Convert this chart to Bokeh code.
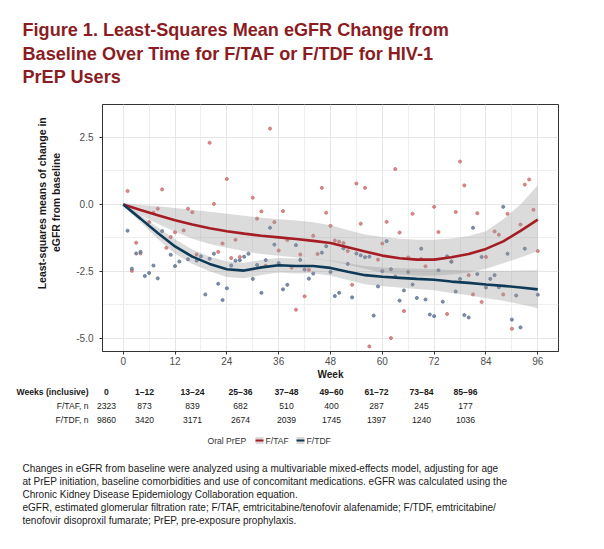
import math
from bokeh.plotting import figure
from bokeh.layouts import column, row
from bokeh.models import Range1d, FixedTicker, PrintfTickFormatter
from bokeh.core.properties import value
from bokeh.embed import file_html
from bokeh.resources import INLINE

# ---------------- data ----------------
taf_pt_weeks = [1, 2, 3, 4, 6, 7, 8, 9, 10, 11, 12, 14, 15, 16, 17, 20, 21, 22, 23, 24, 25, 26, 27,
                30, 31, 32, 33, 34, 35, 36, 37, 38, 39, 40, 41, 42, 43, 44, 45, 46, 47, 48, 49, 50,
                51, 52, 53, 54, 55, 56, 57, 59, 60, 61, 62, 63, 64, 65, 66, 67, 69, 70, 72, 73, 75,
                76, 77, 78, 79, 80, 81, 82, 83, 84, 86, 87, 88, 89, 90, 92, 93, 94, 95, 96]
taf_pt_vals = [0.50, -2.48, -1.43, -1.83, -0.66, -0.31, -0.16, 0.56, -1.62, -1.22, -1.04, -0.97, -0.16,
               -0.29, -1.87, 2.30, 0.02, -1.77, -1.46, 0.95, -2.00, -1.32, -1.96, 0.25, -0.53, -0.26,
               -2.29, 2.83, -0.66, -1.72, -0.25, -1.33, -2.36, -3.93, -1.87, -3.43, -2.44, -1.17,
               -1.85, 0.62, -0.31, -0.80, -1.35, -1.39, -1.44, -1.74, -3.00, 0.78, -0.72, 0.62,
               -5.30, -2.06, -1.46, -0.65, -4.99, 1.32, -1.05, -3.98, -1.98, -0.35, -2.04, -2.31,
               -0.09, -1.03, -4.09, -2.13, -0.28, 1.60, 0.71, -2.64, -3.36, -0.33, -3.64, -1.96,
               -1.01, -1.13, -3.36, -0.35, -4.64, -0.75, 0.74, 0.93, -0.20, -1.74]

tdf_pt_weeks = [1, 2, 3, 4, 5, 6, 7, 8, 9, 11, 12, 13, 15, 17, 18, 19, 20, 21, 22, 23, 24, 25, 26,
                27, 28, 29, 30, 31, 32, 33, 34, 35, 36, 37, 38, 40, 41, 42, 43, 44, 46, 47, 48, 49,
                50, 51, 52, 53, 54, 55, 56, 57, 58, 59, 60, 61, 62, 63, 64, 65, 66, 67, 68, 69, 70,
                71, 72, 73, 74, 75, 76, 77, 78, 79, 80, 81, 82, 83, 84, 85, 86, 87, 88, 89, 90, 91,
                92, 93, 96]
tdf_pt_vals = [-0.98, -2.40, -1.83, -1.77, -2.67, -2.56, -2.28, -2.76, -1.00, -1.88, -2.30, -2.13,
               -2.05, -2.10, -1.94, -3.36, -2.03, -1.84, -2.96, -3.57, -3.13, -2.28, -2.10, -2.08,
               -1.95, -1.84, -2.78, -2.26, -3.30, -2.08, -0.87, -1.50, -2.19, -3.17, -3.00, -1.52,
               -2.07, -2.43, -2.77, -2.58, -1.80, -1.56, -2.52, -3.42, -3.30, -1.64, -2.22, -3.47,
               -1.83, -1.90, -1.97, -1.95, -4.15, -3.06, -2.49, -1.37, -2.42, -2.69, -3.59, -3.21,
               -2.52, -2.99, -3.49, -1.65, -3.55, -4.11, -4.17, -2.46, -3.63, -1.94, -2.14, -3.25,
               -2.78, -4.13, -4.22, -0.87, -2.60, -1.96, -3.10, -2.78, -2.64, -3.09, -0.09, -1.84,
               -4.30, -3.40, -4.59, -1.65, -3.37]

curve_weeks = [0, 4, 8, 12, 16, 20, 24, 28, 32, 36, 40, 44, 48, 52, 56, 60, 64, 68, 72, 76, 80, 84, 88, 92, 96]
taf_mean = [0.00, -0.21, -0.40, -0.59, -0.75, -0.89, -1.00, -1.09, -1.17, -1.23, -1.29, -1.36, -1.44,
            -1.60, -1.76, -1.91, -2.01, -2.06, -2.06, -1.97, -1.85, -1.66, -1.38, -0.99, -0.57]
taf_upper = [0.05, -0.02, -0.07, -0.13, -0.20, -0.27, -0.35, -0.42, -0.50, -0.55, -0.60, -0.67, -0.78,
             -0.95, -1.12, -1.22, -1.28, -1.32, -1.32, -1.27, -1.18, -1.00, -0.55, 0.00, 0.72]
taf_lower = [-0.05, -0.40, -0.72, -1.02, -1.28, -1.48, -1.62, -1.75, -1.85, -1.92, -1.98, -2.04, -2.10,
             -2.25, -2.40, -2.55, -2.62, -2.66, -2.66, -2.62, -2.54, -2.40, -2.20, -1.98, -1.75]
tdf_mean = [0.00, -0.53, -1.07, -1.57, -1.95, -2.22, -2.42, -2.47, -2.35, -2.27, -2.30, -2.30, -2.37,
            -2.51, -2.64, -2.70, -2.74, -2.78, -2.81, -2.88, -2.93, -2.99, -3.04, -3.10, -3.17]
tdf_upper = [0.05, -0.40, -0.85, -1.30, -1.68, -1.95, -2.13, -2.18, -2.07, -2.00, -2.02, -2.03, -2.08,
             -2.20, -2.30, -2.35, -2.38, -2.40, -2.42, -2.45, -2.47, -2.48, -2.48, -2.47, -2.46]
tdf_lower = [-0.05, -0.66, -1.29, -1.84, -2.22, -2.49, -2.71, -2.76, -2.63, -2.54, -2.58, -2.57, -2.66,
             -2.82, -2.98, -3.05, -3.10, -3.16, -3.20, -3.31, -3.39, -3.50, -3.60, -3.73, -3.88]

x_ticks = [0, 12, 24, 36, 48, 60, 72, 84, 96]
x_minor = [6, 18, 30, 42, 54, 66, 78, 90]
y_ticks = [-5.0, -2.5, 0.0, 2.5]
y_minor = [-3.75, -1.25, 1.25]

table_cols = ["0", "1\u201312", "13\u201324", "25\u201336", "37\u201348", "49\u201360", "61\u201372", "73\u201384", "85\u201396"]
taf_n = ["2323", "873", "839", "682", "510", "400", "287", "245", "177"]
tdf_n = ["9860", "3420", "3171", "2674", "2039", "1745", "1397", "1240", "1036"]
row_labels = ["Weeks (inclusive)", "F/TAF, n", "F/TDF, n"]

title_lines = ["Figure 1. Least-Squares Mean eGFR Change from",
               "Baseline Over Time for F/TAF or F/TDF for HIV-1",
               "PrEP Users"]
ylabel_lines = ["Least-squares means of change in", "eGFR from baseline"]
legend_title = "Oral PrEP"
legend_items = ["F/TAF", "F/TDF"]
foot_lines = [
    "Changes in eGFR from baseline were analyzed using a multivariable mixed-effects model, adjusting for age",
    "at PrEP initiation, baseline comorbidities and use of concomitant medications. eGFR was calculated using the",
    "Chronic Kidney Disease Epidemiology Collaboration equation.",
    "eGFR, estimated glomerular filtration rate; F/TAF, emtricitabine/tenofovir alafenamide; F/TDF, emtricitabine/",
    "tenofovir disoproxil fumarate; PrEP, pre-exposure prophylaxis.",
]

# ---------------- styling / layout ----------------
RED, BLUE = "#a51c24", "#0f3a57"
RED_PT, BLUE_PT = "#d07474", "#66799a"
FONT = "Liberation Sans"
TOTAL_W = 596
TOP_H = 90
LEFT_W = 60
MAIN_W = TOTAL_W - LEFT_W
MAIN_H = 295
BOT_H = 160
OX, OY = 1, 1  # page position of the layout origin


def aux(w, h):
    f = figure(width=w, height=h, output_backend="svg", toolbar_location=None,
               x_range=Range1d(0, w), y_range=Range1d(0, h), min_border=0,
               x_axis_type=None, y_axis_type=None)
    f.grid.visible = False
    f.outline_line_color = None
    f.background_fill_color = "white"
    f.border_fill_color = "white"
    return f


def txt(f, h, ox, oy, xs, ys, texts, size, bold=False, align="left", baseline="middle",
        color="#1a1a1a", font=FONT, angle=0.0):
    f.text(x=[x - ox for x in xs], y=[h - (y - oy) for y in ys], text=texts,
           text_font=value(font), text_font_size=value(f"{size}px"),
           text_font_style=value("bold" if bold else "normal"),
           text_align=value(align), text_baseline=value(baseline),
           text_color=value(color), angle=angle)


# --- title block ---
top = aux(TOTAL_W, TOP_H)
txt(top, TOP_H, OX, OY, [23, 23, 23], [30, 54, 77.5], title_lines, 18.1, bold=True,
    baseline="alphabetic", color="#8c1c23")

# --- y-axis title block ---
left = aux(LEFT_W, MAIN_H)
LOY = OY + TOP_H
txt(left, MAIN_H, OX, LOY, [42.5, 56], [209, 208], ylabel_lines, 10.5, bold=True,
    align="center", angle=math.pi / 2)

# --- main plot ---
MOX = OX + LEFT_W
p = figure(width=MAIN_W, height=MAIN_H, output_backend="svg", toolbar_location=None,
           x_range=Range1d(-4.8, 100.8), y_range=Range1d(-5.49, 3.73),
           min_border_left=103 - MOX, min_border_right=(MOX + MAIN_W) - 559,
           min_border_top=105 - LOY, min_border_bottom=(LOY + MAIN_H) - 352)
p.background_fill_color = "white"
p.border_fill_color = "white"
p.outline_line_color = "#333333"
p.outline_line_width = 1

for ax in (p.xaxis[0], p.yaxis[0]):
    ax.axis_line_color = "#333333"
    ax.major_tick_line_color = "#333333"
    ax.major_tick_in = 0
    ax.major_tick_out = 3
    ax.minor_tick_line_color = None
    ax.major_label_text_font = FONT
    ax.major_label_text_font_size = "10px"
    ax.major_label_text_color = "#4d4d4d"

p.xaxis.ticker = FixedTicker(ticks=x_ticks, minor_ticks=x_minor)
p.yaxis.ticker = FixedTicker(ticks=y_ticks, minor_ticks=y_minor)
p.xaxis.major_label_standoff = 1
p.yaxis.major_label_standoff = 5
p.yaxis.formatter = PrintfTickFormatter(format="%.1f")
p.xaxis.axis_label = "Week"
p.xaxis.axis_label_text_font = FONT
p.xaxis.axis_label_text_font_size = "10px"
p.xaxis.axis_label_text_font_style = "bold"
p.xaxis.axis_label_text_color = "#1a1a1a"
p.xaxis.axis_label_standoff = 1
p.xgrid.ticker = FixedTicker(ticks=x_ticks, minor_ticks=x_minor)
p.ygrid.ticker = FixedTicker(ticks=y_ticks, minor_ticks=y_minor)
for g in (p.xgrid[0], p.ygrid[0]):
    g.grid_line_color = "#e6e6e6"
    g.grid_line_width = 1
    g.minor_grid_line_color = "#efefef"
    g.minor_grid_line_width = 1

p.scatter(taf_pt_weeks, taf_pt_vals, size=3.1, color=RED_PT, alpha=0.85)
p.scatter(tdf_pt_weeks, tdf_pt_vals, size=3.1, color=BLUE_PT, alpha=0.85)
p.varea(x=curve_weeks, y1=taf_lower, y2=taf_upper, fill_color="#999999", fill_alpha=0.35)
p.varea(x=curve_weeks, y1=tdf_lower, y2=tdf_upper, fill_color="#999999", fill_alpha=0.35)
p.line(curve_weeks, taf_mean, line_width=2.6, color=RED)
p.line(curve_weeks, tdf_mean, line_width=2.6, color=BLUE)

# --- table, legend and footnote block ---
bot = aux(TOTAL_W, BOT_H)
BOY = LOY + MAIN_H
TS = 8.6
col_x = [107, 145, 193, 241, 287, 332, 377, 422, 466]
rows_y = [392.7, 406.7, 420.7]
txt(bot, BOT_H, OX, BOY, [89], [rows_y[0]], [row_labels[0]], TS, bold=True, align="right")
txt(bot, BOT_H, OX, BOY, [89, 89], rows_y[1:], row_labels[1:], TS, align="right")
txt(bot, BOT_H, OX, BOY, col_x, [rows_y[0]] * 9, table_cols, TS, bold=True, align="center")
txt(bot, BOT_H, OX, BOY, col_x, [rows_y[1]] * 9, taf_n, TS, align="center")
txt(bot, BOT_H, OX, BOY, col_x, [rows_y[2]] * 9, tdf_n, TS, align="center")

ly = 441
key_l = [256, 297]
key_colors = [RED, BLUE]
bot.quad(left=[k - OX for k in key_l], right=[k + 8 - OX for k in key_l],
         top=[BOT_H - (ly - 3.5 - BOY)] * 2, bottom=[BOT_H - (ly + 3.5 - BOY)] * 2,
         fill_color="#d9d9d9", line_color=None)
bot.quad(left=[k - OX for k in key_l], right=[k + 8 - OX for k in key_l],
         top=[BOT_H - (ly - 1 - BOY)] * 2, bottom=[BOT_H - (ly + 1 - BOY)] * 2,
         fill_color=key_colors, line_color=None)
txt(bot, BOT_H, OX, BOY, [208], [ly], [legend_title], TS, color="#333333")
txt(bot, BOT_H, OX, BOY, [266, 307], [ly, ly], legend_items, TS, color="#333333")

txt(bot, BOT_H, OX, BOY, [23] * 5, [469 + i * 13 for i in range(5)], foot_lines, 10)

layout = column(top, row(left, p), bot)
open("out.html", "w").write(file_html(layout, INLINE))
